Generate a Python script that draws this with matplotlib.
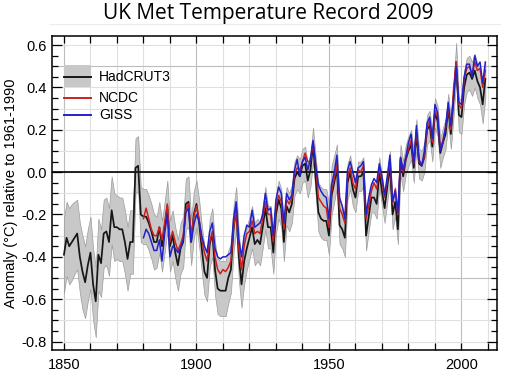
import matplotlib
matplotlib.use('Agg')
import matplotlib.pyplot as plt
import numpy as np
from matplotlib.ticker import MultipleLocator, FixedLocator, FuncFormatter
from matplotlib.patches import Rectangle
from matplotlib.lines import Line2D

# annual global anomalies (deg C, relative to 1961-1990)
had_years = list(range(1850, 2010))
had = [
    -0.39, -0.31, -0.35, -0.33, -0.31, -0.29, -0.40, -0.47, -0.52, -0.44,  # 1850s
    -0.38, -0.53, -0.61, -0.39, -0.43, -0.29, -0.28, -0.33, -0.18, -0.26,  # 1860s
    -0.26, -0.27, -0.27, -0.33, -0.41, -0.33, -0.33, 0.02, 0.03, -0.20,    # 1870s
    -0.21, -0.21, -0.24, -0.28, -0.33, -0.33, -0.26, -0.35, -0.26, -0.16,  # 1880s
    -0.35, -0.30, -0.38, -0.44, -0.36, -0.33, -0.15, -0.14, -0.33, -0.20,  # 1890s
    -0.15, -0.24, -0.36, -0.47, -0.50, -0.34, -0.29, -0.46, -0.55, -0.56,  # 1900s
    -0.56, -0.56, -0.50, -0.46, -0.27, -0.17, -0.40, -0.53, -0.42, -0.36,  # 1910s
    -0.31, -0.26, -0.34, -0.32, -0.34, -0.26, -0.17, -0.26, -0.26, -0.38,  # 1920s
    -0.20, -0.13, -0.17, -0.33, -0.16, -0.19, -0.15, -0.03, 0.00, -0.02,   # 1930s
    0.03, 0.04, -0.04, 0.01, 0.13, -0.03, -0.19, -0.22, -0.23, -0.23,      # 1940s
    -0.30, -0.11, -0.05, 0.02, -0.25, -0.27, -0.31, -0.05, 0.00, -0.08,    # 1950s
    -0.12, -0.02, -0.02, 0.00, -0.30, -0.21, -0.12, -0.12, -0.15, 0.00,    # 1960s
    -0.09, -0.17, -0.07, 0.03, -0.20, -0.14, -0.27, 0.06, -0.02, 0.06,     # 1970s
    0.10, 0.13, 0.02, 0.18, 0.04, 0.03, 0.07, 0.20, 0.22, 0.12,            # 1980s
    0.28, 0.24, 0.09, 0.14, 0.18, 0.30, 0.18, 0.34, 0.52, 0.27,            # 1990s
    0.26, 0.40, 0.46, 0.47, 0.44, 0.48, 0.43, 0.40, 0.32, 0.44,            # 2000s
]
# HadCRUT3 uncertainty range above / below the best estimate
had_err_up = [
    0.17, 0.17, 0.18, 0.18, 0.17, 0.16, 0.16, 0.17, 0.17, 0.17,
    0.17, 0.17, 0.16, 0.17, 0.16, 0.16, 0.16, 0.16, 0.16, 0.16,
    0.15, 0.15, 0.15, 0.15, 0.15, 0.15, 0.15, 0.14, 0.14, 0.13,
    0.13, 0.13, 0.13, 0.13, 0.13, 0.12, 0.12, 0.12, 0.12, 0.12,
    0.12, 0.12, 0.12, 0.12, 0.12, 0.12, 0.12, 0.12, 0.11, 0.11,
    0.11, 0.11, 0.11, 0.12, 0.12, 0.12, 0.12, 0.13, 0.14, 0.14,
    0.14, 0.14, 0.13, 0.12, 0.11, 0.10, 0.11, 0.11, 0.11, 0.10,
    0.10, 0.10, 0.10, 0.10, 0.10, 0.10, 0.10, 0.10, 0.10, 0.10,
    0.09, 0.09, 0.09, 0.09, 0.09, 0.09, 0.09, 0.08, 0.08, 0.08,
    0.08, 0.08, 0.08, 0.08, 0.08, 0.10, 0.14, 0.15, 0.15, 0.15,
    0.15, 0.14, 0.13, 0.11, 0.12, 0.11, 0.10, 0.09, 0.08, 0.08,
    0.08, 0.07, 0.07, 0.07, 0.07, 0.07, 0.07, 0.07, 0.07, 0.07,
    0.07, 0.07, 0.07, 0.07, 0.07, 0.07, 0.07, 0.07, 0.07, 0.07,
    0.07, 0.07, 0.07, 0.07, 0.07, 0.07, 0.07, 0.07, 0.07, 0.07,
    0.07, 0.07, 0.07, 0.07, 0.07, 0.07, 0.07, 0.08, 0.09, 0.08,
    0.08, 0.08, 0.08, 0.08, 0.08, 0.08, 0.08, 0.08, 0.08, 0.08,
]
had_err_dn = [
    0.18, 0.18, 0.18, 0.18, 0.17, 0.17, 0.17, 0.18, 0.17, 0.17,
    0.17, 0.17, 0.17, 0.17, 0.16, 0.16, 0.16, 0.16, 0.16, 0.16,
    0.15, 0.15, 0.15, 0.15, 0.15, 0.15, 0.15, 0.12, 0.12, 0.13,
    0.13, 0.13, 0.13, 0.13, 0.13, 0.12, 0.12, 0.12, 0.12, 0.12,
    0.12, 0.12, 0.12, 0.12, 0.12, 0.12, 0.12, 0.12, 0.11, 0.11,
    0.11, 0.11, 0.11, 0.11, 0.11, 0.11, 0.11, 0.12, 0.12, 0.12,
    0.12, 0.12, 0.12, 0.11, 0.11, 0.10, 0.11, 0.11, 0.11, 0.10,
    0.10, 0.10, 0.10, 0.10, 0.10, 0.10, 0.10, 0.10, 0.10, 0.10,
    0.09, 0.09, 0.09, 0.09, 0.09, 0.09, 0.09, 0.08, 0.08, 0.08,
    0.08, 0.08, 0.08, 0.08, 0.08, 0.08, 0.09, 0.09, 0.09, 0.09,
    0.09, 0.09, 0.09, 0.09, 0.09, 0.09, 0.09, 0.08, 0.08, 0.08,
    0.07, 0.07, 0.07, 0.07, 0.07, 0.07, 0.07, 0.07, 0.07, 0.07,
    0.07, 0.07, 0.07, 0.07, 0.07, 0.07, 0.07, 0.07, 0.07, 0.07,
    0.07, 0.07, 0.07, 0.07, 0.07, 0.07, 0.07, 0.07, 0.07, 0.07,
    0.07, 0.07, 0.07, 0.07, 0.07, 0.07, 0.07, 0.08, 0.08, 0.08,
    0.08, 0.08, 0.08, 0.08, 0.08, 0.08, 0.08, 0.08, 0.09, 0.09,
]

other_years = list(range(1880, 2010))
ncdc = [
    -0.22, -0.17, -0.22, -0.27, -0.30, -0.30, -0.26, -0.32, -0.24, -0.15,  # 1880s
    -0.33, -0.28, -0.33, -0.37, -0.34, -0.30, -0.18, -0.15, -0.30, -0.21,  # 1890s
    -0.16, -0.22, -0.32, -0.38, -0.42, -0.33, -0.28, -0.40, -0.46, -0.48,  # 1900s
    -0.46, -0.47, -0.45, -0.42, -0.26, -0.18, -0.36, -0.46, -0.35, -0.29,  # 1910s
    -0.28, -0.23, -0.29, -0.28, -0.29, -0.22, -0.14, -0.20, -0.20, -0.33,  # 1920s
    -0.16, -0.11, -0.14, -0.27, -0.13, -0.15, -0.12, -0.01, 0.02, 0.01,    # 1930s
    0.05, 0.09, 0.05, 0.05, 0.14, 0.04, -0.12, -0.14, -0.16, -0.17,        # 1940s
    -0.26, -0.09, -0.03, 0.04, -0.17, -0.20, -0.24, -0.03, 0.02, -0.05,    # 1950s
    -0.08, 0.01, 0.00, 0.03, -0.22, -0.16, -0.09, -0.05, -0.08, 0.02,      # 1960s
    -0.04, -0.12, -0.04, 0.06, -0.15, -0.08, -0.20, 0.07, 0.00, 0.07,      # 1970s
    0.11, 0.15, 0.04, 0.20, 0.05, 0.03, 0.08, 0.21, 0.24, 0.14,            # 1980s
    0.29, 0.26, 0.11, 0.15, 0.21, 0.31, 0.20, 0.39, 0.52, 0.32,            # 1990s
    0.30, 0.44, 0.49, 0.50, 0.46, 0.52, 0.48, 0.49, 0.40, 0.48,            # 2000s
]
giss = [
    -0.31, -0.27, -0.29, -0.33, -0.37, -0.37, -0.32, -0.42, -0.29, -0.20,  # 1880s
    -0.40, -0.35, -0.36, -0.38, -0.36, -0.32, -0.19, -0.17, -0.33, -0.25,  # 1890s
    -0.20, -0.23, -0.30, -0.35, -0.38, -0.28, -0.24, -0.36, -0.40, -0.41,  # 1900s
    -0.40, -0.40, -0.39, -0.38, -0.22, -0.14, -0.32, -0.40, -0.30, -0.25,  # 1910s
    -0.26, -0.18, -0.26, -0.25, -0.24, -0.20, -0.10, -0.18, -0.17, -0.30,  # 1920s
    -0.13, -0.07, -0.10, -0.24, -0.10, -0.13, -0.11, 0.01, 0.06, -0.02,    # 1930s
    0.05, 0.07, 0.01, 0.06, 0.15, 0.03, -0.06, -0.09, -0.11, -0.12,        # 1940s
    -0.22, -0.06, 0.00, 0.08, -0.12, -0.16, -0.22, 0.01, 0.05, 0.00,      # 1950s
    -0.05, 0.02, 0.03, 0.05, -0.20, -0.12, -0.06, -0.03, -0.05, 0.04,      # 1960s
    -0.02, -0.11, -0.02, 0.08, -0.14, -0.09, -0.19, 0.07, 0.01, 0.07,      # 1970s
    0.14, 0.18, 0.04, 0.22, 0.06, 0.03, 0.10, 0.23, 0.26, 0.16,            # 1980s
    0.32, 0.28, 0.10, 0.14, 0.21, 0.33, 0.22, 0.35, 0.50, 0.33,            # 1990s
    0.32, 0.45, 0.51, 0.51, 0.45, 0.55, 0.50, 0.52, 0.42, 0.52,            # 2000s
]

x_labels = [1850, 1900, 1950, 2000]

plt.rcParams['font.family'] = ['Liberation Sans', 'DejaVu Sans']

fig = plt.figure(figsize=(5.06, 3.75), dpi=100)
ax = fig.add_axes([0.1028, 0.0667, 0.8794, 0.8373])
ax.set_xlim(1845.5, 2013.4)
ax.set_ylim(-0.84, 0.643)

# background grid: every 10 years / 0.1 degC, a bit darker every 50 years / 0.5 degC
for yr in range(1850, 2011, 10):
    ax.axvline(yr, color='#bdbdbd' if yr % 50 == 0 else '#e0e0e0', lw=0.8, zorder=0)
for k in range(-8, 7):
    ax.axhline(k / 10, color='#bdbdbd' if k % 5 == 0 else '#e0e0e0', lw=0.8, zorder=0)

had_a = np.array(had)
ax.fill_between(had_years, had_a - np.array(had_err_dn), had_a + np.array(had_err_up),
                facecolor='#c8c8c8', edgecolor='#9c9c9c', lw=0.5, zorder=1)
ax.axhline(0, color='black', lw=1.2, zorder=2)

ax.plot(had_years, had, color='#161616', lw=1.25, zorder=3)
ax.plot(other_years, ncdc, color='#cc2020', lw=1.1, zorder=4)
ax.plot(other_years, giss, color='#2222cc', lw=1.1, zorder=5)

# legend drawn by hand so the grey band swatch can be taller than a row
ax.add_patch(Rectangle((0.0277, 0.838), 0.06, 0.07, transform=ax.transAxes,
                       facecolor='#c8c8c8', edgecolor='none', zorder=6))
legend_rows = [('HadCRUT3', '#161616', 0.870), ('NCDC', '#cc2020', 0.8035), ('GISS', '#2222cc', 0.748)]
for name, col, yy in legend_rows:
    ax.add_line(Line2D([0.0277, 0.0877], [yy, yy], transform=ax.transAxes, color=col, lw=1.4, zorder=7))
    ax.text(0.106, yy, name, transform=ax.transAxes, va='center', ha='left', fontsize=10, zorder=7)

ax.xaxis.set_major_locator(FixedLocator(x_labels))
ax.xaxis.set_minor_locator(MultipleLocator(10))
ax.yaxis.set_major_locator(MultipleLocator(0.2))
ax.yaxis.set_minor_locator(MultipleLocator(0.05))
ax.yaxis.set_major_formatter(FuncFormatter(lambda v, p: '%.1f' % (round(v, 2) + 0.0)))
ax.tick_params(which='both', direction='in', top=True, right=True, labelsize=10.5, width=0.9)
ax.tick_params(axis='x', which='both', length=5, pad=6)
ax.tick_params(axis='y', which='major', length=7, pad=4)
ax.tick_params(axis='y', which='minor', length=4)
for sp in ax.spines.values():
    sp.set_linewidth(1.1)

ax.set_ylabel('Anomaly (°C) relative to 1961-1990', fontsize=10.5)
ax.yaxis.set_label_coords(-0.077, 0.5)

fig.text(0.53, 1 - 3 / 375, 'UK Met Temperature Record 2009', ha='center', va='top',
         fontsize=15, family=['Open Sans', 'DejaVu Sans'])
fig.add_artist(Line2D([50 / 506, 500 / 506], [1 - 24 / 375] * 2, color='#ececec', lw=0.8))

fig.savefig('out.png', dpi=100)
